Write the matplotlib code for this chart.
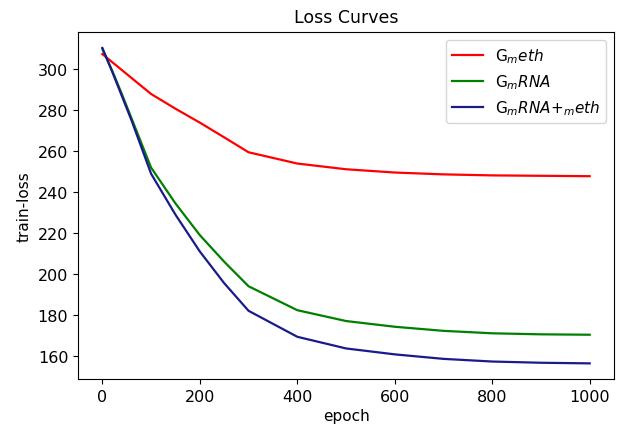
import numpy as np
import matplotlib
matplotlib.use("Agg")
import matplotlib.pyplot as plt

# epochs at which the loss was logged
epochs = [0, 20, 40, 60, 80, 100, 150, 200, 250, 300, 400, 500, 600, 700, 800, 900, 1000]

loss_meth = [307.5, 303.6, 299.7, 295.8, 291.9, 288.0, 280.8, 274.0, 266.8, 259.5,
             254.0, 251.2, 249.6, 248.7, 248.2, 248.0, 247.8]
loss_rna = [310.0, 299.5, 288.0, 276.0, 264.0, 252.0, 234.5, 219.0, 206.0, 194.0,
            182.3, 177.0, 174.2, 172.2, 171.0, 170.5, 170.3]
loss_both = [310.5, 299.0, 287.0, 275.0, 262.0, 249.0, 229.0, 211.0, 195.5, 182.0,
             169.3, 163.6, 160.7, 158.5, 157.2, 156.6, 156.3]

labels = [r'G$_meth$', r'G$_mRNA$', r'G$_mRNA{+}_meth$']

plt.rcParams['font.size'] = 11

fig = plt.figure(figsize=(6.19, 4.31), dpi=100)
ax = fig.add_axes([0.126, 0.118, 0.866, 0.805])

ax.plot(epochs, loss_meth, color='red', lw=1.6, label=labels[0])
ax.plot(epochs, loss_rna, color='green', lw=1.6, label=labels[1])
ax.plot(epochs, loss_both, color='#1a1a8c', lw=1.6, label=labels[2])

ax.set_title('Loss Curves', fontsize=12.5, pad=7)
ax.set_xlabel('epoch', labelpad=3)
ax.set_ylabel('train-loss')
ax.set_yticks([160, 180, 200, 220, 240, 260, 280, 300])
ax.set_xticks([0, 200, 400, 600, 800, 1000])
ax.tick_params(labelsize=11.5)
ax.legend(loc='upper right')

fig.savefig('out.png', dpi=100)
